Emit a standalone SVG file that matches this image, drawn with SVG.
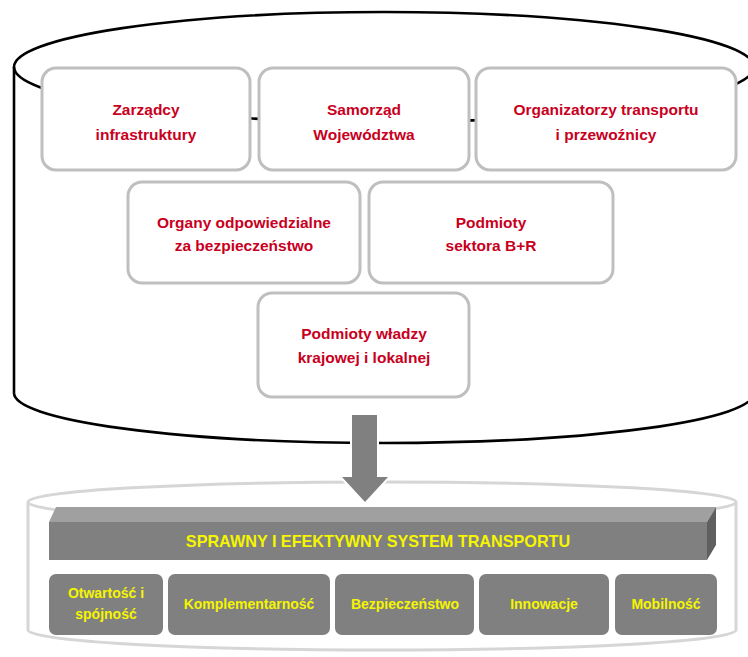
<svg xmlns="http://www.w3.org/2000/svg" width="748" height="657" viewBox="0 0 748 657">
<style>
.cyl{fill:none;stroke:#000;stroke-width:2.6}
.lcyl{fill:none;stroke:#d6d6d6;stroke-width:3}
.box{fill:#fff;stroke:#bfbfbf;stroke-width:3}
.rt{font-family:"Liberation Sans",Arial,sans-serif;font-weight:bold;font-size:15.5px;fill:#c8001e;text-anchor:middle}
.gbox{fill:#808080}
.yt{font-family:"Liberation Sans",Arial,sans-serif;font-weight:bold;font-size:14px;fill:#f5f500;text-anchor:middle}
</style>
<rect width="748" height="657" fill="#fff"/>
<g id="cylinder-top">
<path class="cyl" d="M14,67 A370,55 0 0 1 754,67"/>
<path class="cyl" d="M14,67 A370,55 0 0 0 754,67"/>
<path class="cyl" d="M14,67 V393 A370,50 0 0 0 754,393"/>
</g>
<g id="cylinder-bottom">
<path class="lcyl" d="M28,502 A354,20 0 0 1 736,502 A354,20 0 0 1 28,502 Z"/>
<path class="lcyl" d="M28,502 V630 A354,20 0 0 0 736,630 V502"/>
</g>
<g id="connectors">
<polygon points="352,415 377,415 377,477 388,477 365,502 342,477 352,477" fill="#808080" stroke="#fff" stroke-width="4" stroke-linejoin="miter"/>
<polygon points="352,415 377,415 377,477 388,477 365,502 342,477 352,477" fill="#808080"/>
</g>
<g id="n-zarzadcy"><rect class="box" x="42" y="68" width="208" height="102" rx="14"/><text class="rt" x="146" y="115">Zarządcy</text><text class="rt" x="146" y="140">infrastruktury</text></g>
<g id="n-samorzad"><rect class="box" x="259" y="68" width="210" height="102" rx="14"/><text class="rt" x="364" y="115">Samorząd</text><text class="rt" x="364" y="140">Województwa</text></g>
<g id="n-organizatorzy"><rect class="box" x="476" y="68" width="260" height="102" rx="14"/><text class="rt" x="606" y="115">Organizatorzy transportu</text><text class="rt" x="606" y="140">i przewoźnicy</text></g>
<g id="n-organy"><rect class="box" x="128" y="182" width="232" height="101" rx="14"/><text class="rt" x="244" y="228">Organy odpowiedzialne</text><text class="rt" x="244" y="251">za bezpieczeństwo</text></g>
<g id="n-br"><rect class="box" x="369" y="182" width="244" height="101" rx="14"/><text class="rt" x="491" y="228">Podmioty</text><text class="rt" x="491" y="251">sektora B+R</text></g>
<g id="n-wladza"><rect class="box" x="258" y="293" width="211" height="104" rx="14"/><text class="rt" x="364" y="339">Podmioty władzy</text><text class="rt" x="364" y="363">krajowej i lokalnej</text></g>
<g id="n-system">
<polygon points="49,522 56,507 716,507 707,522" fill="#a0a0a0"/>
<polygon points="707,522 716,507 716,545 707,560" fill="#5f5f5f"/>
<rect x="49" y="522" width="658" height="38" fill="#808080"/>
<text x="378" y="547" font-family="'Liberation Sans',Arial,sans-serif" font-weight="bold" font-size="16.2" fill="#f5f500" text-anchor="middle">SPRAWNY I EFEKTYWNY SYSTEM TRANSPORTU</text>
</g>
<g id="n-otwartosc"><rect class="gbox" x="49" y="574" width="114" height="61" rx="7"/><text class="yt" x="106" y="598">Otwartość i</text><text class="yt" x="106" y="619">spójność</text></g>
<g id="n-komplementarnosc"><rect class="gbox" x="168" y="574" width="162" height="61" rx="7"/><text class="yt" x="249" y="609">Komplementarność</text></g>
<g id="n-bezpieczenstwo"><rect class="gbox" x="335" y="574" width="139" height="61" rx="7"/><text class="yt" x="405" y="609">Bezpieczeństwo</text></g>
<g id="n-innowacje"><rect class="gbox" x="479" y="574" width="130" height="61" rx="7"/><text class="yt" x="544" y="609">Innowacje</text></g>
<g id="n-mobilnosc"><rect class="gbox" x="615" y="574" width="102" height="61" rx="7"/><text class="yt" x="666" y="609">Mobilność</text></g>
</svg>
